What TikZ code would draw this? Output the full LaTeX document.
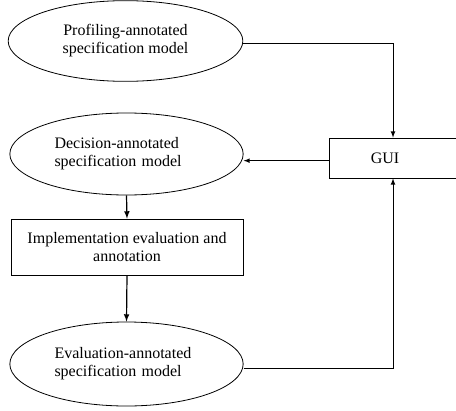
\documentclass[tikz,border=0pt]{standalone}
\usepackage{fontspec}
\setmainfont{Liberation Serif}
\usetikzlibrary{arrows, shapes.geometric}

\begin{document}
\begin{tikzpicture}[x=0.75pt, y=-0.75pt,
  model/.style = {draw, ellipse, line width=0.6pt, minimum width=175pt, minimum height=61.5pt, inner sep=0pt, font=\fontsize{12}{13.5}\selectfont},
  stage/.style = {draw, rectangle, line width=0.6pt, font=\fontsize{12}{13.5}\selectfont},
  flow/.style = {-latex, line width=0.6pt}]
  \useasboundingbox (0,0) rectangle (456,410);

  \node[model, align=center, minimum width=176pt, minimum height=60.5pt] (prof) at (125.5,41) {Profiling-annotated\\specification model};
  \node[model, align=left, text width=108pt] (dec) at (126.5,154) {Decision-annotated\\specification model};
  \node[stage, align=center, minimum width=174pt, minimum height=42pt] (impl) at (127,247) {Implementation evaluation and\\annotation};
  \node[model, align=left, text width=108pt, minimum height=63pt] (eval) at (126.5,364) {Evaluation-annotated\\specification model};
  \node[stage, minimum width=100pt, minimum height=30pt,
    label={[font=\fontsize{12}{13.5}\selectfont, xshift=-8.25pt]center:GUI}] (gui) at (396,158) {};
  \coordinate (gtop) at ([xshift=-2.25pt]gui.north);
  \coordinate (gbot) at ([xshift=-2.25pt]gui.south);

  \draw[flow] ([yshift=-2pt]prof.east) -| (gtop);
  \draw[flow] ([yshift=-2pt]gui.west) -- ([yshift=-2pt]gui.west -| dec.east);
  \draw[flow, line width=0.9pt] (dec.south) -- (impl.north);
  \draw[flow, line width=0.9pt] (impl.south) -- (eval.north);
  \draw[flow] ([yshift=-3pt]eval.east) -| (gbot);

\end{tikzpicture}
\end{document}
